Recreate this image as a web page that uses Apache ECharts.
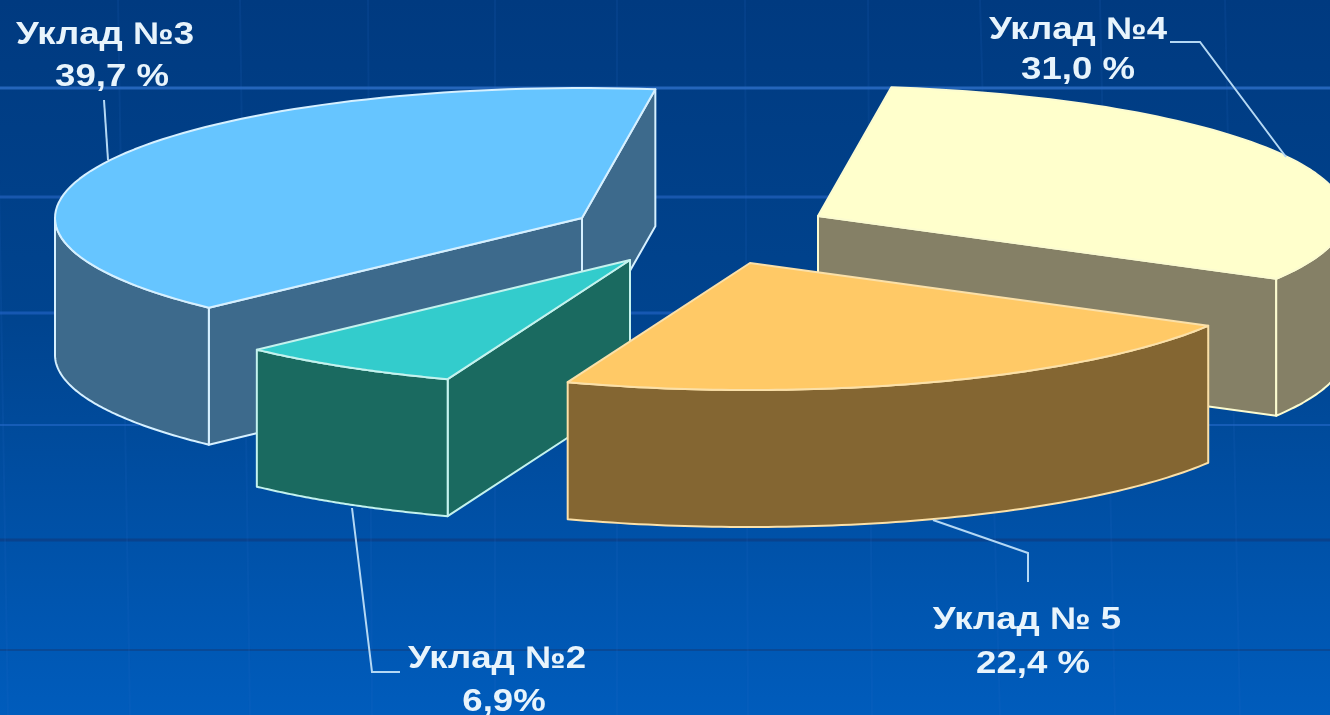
<!DOCTYPE html>
<html><head><meta charset="utf-8">
<script src="https://cdn.jsdelivr.net/npm/echarts@6/dist/echarts.min.js"></script>
<style>html,body{margin:0;padding:0;background:#0048a0}#c{width:1330px;height:715px;overflow:hidden}</style>
</head><body><div id="c"></div>
<script>
// Data, clockwise from the rear edge of the pie
const categories = ['Уклад №4', 'Уклад № 5', 'Уклад №2', 'Уклад №3'];
const shares = [31.0, 22.4, 6.9, 39.7];
const shareLabels = ['31,0 %', '22,4 %', '6,9%', '39,7 %'];

// Styles
const topColors  = ['#ffffcc', '#ffc966', '#33cccc', '#66c5ff'];
const sideColors = ['#858066', '#846632', '#1a6a60', '#3d6a8c'];
const edgeColors = ['#fbfbd0', '#fbe0a8', '#c4f2ee', '#d6f0ff'];
const drawOrder  = [1, 3, 2, 0];

// 3D projection and layout
const RX = 527, RY_REAR = 130, RY_FRONT = 127, DEPTH = 137, START_ANGLE = -82;
const centers = [[818, 216], [750, 263], [630, 260], [582, 218]];
const leaders = [
  [[1170, 42], [1200, 42], [1286, 157]],
  [[933, 520], [1028, 553], [1028, 582]],
  [[352, 508], [372, 672], [400, 672]],
  [[104, 100], [108, 160]]
];
const titlePos = [[1078, 30], [1027, 620], [497, 659], [105, 35]];
const valuePos = [[1078, 70], [1033, 664], [504, 702], [112, 77]];
const gridRows = [[88, '#2a6cc4', 3], [197, '#1c5cb4', 3], [313, '#1a5cb8', 3], [425, '#1a60bc', 2], [540, '#0a4088', 3], [650, '#0a4690', 2]];
const gridCols = [[-4, 8], [118, 130], [240, 250], [368, 372], [495, 495], [617, 617], [745, 748], [868, 872], [980, 1000], [1100, 1115], [1225, 1240]];

const total = shares.reduce((a, b) => a + b, 0);
let running = 0;
const seriesData = shares.map(v => { const d = [v, running]; running += v; return d; });

function renderSlice(params, api) {
  const i = params.dataIndex;
  const a0 = START_ANGLE + api.value(1) / total * 360;
  const a1 = a0 + api.value(0) / total * 360;
  const [cx, cy] = centers[i];
  const pt = (deg, dy) => {
    const r = deg * Math.PI / 180, s = Math.sin(r);
    return [cx + RX * Math.cos(r), cy + (s > 0 ? RY_FRONT : RY_REAR) * s + (dy || 0)];
  };
  const arc = (from, to, dy) => {
    const out = [], n = 80;
    for (let k = 0; k <= n; k++) out.push(pt(from + (to - from) * k / n, dy));
    return out;
  };
  const z = drawOrder[i] * 10;
  const face = (points, fill, zz) => ({
    type: 'polygon', z2: z + zz, shape: { points },
    style: { fill, stroke: edgeColors[i], lineWidth: 2, lineJoin: 'round' }
  });
  const children = [];
  // radial walls: drawn only when their outward normal points at the viewer
  const normalStart = a0 - 90, normalEnd = a1 + 90;
  if (Math.sin(normalStart * Math.PI / 180) > 0) {
    const p = pt(a0);
    children.push(face([[cx, cy], p, [p[0], p[1] + DEPTH], [cx, cy + DEPTH]], sideColors[i], 1));
  }
  if (Math.sin(normalEnd * Math.PI / 180) > 0) {
    const p = pt(a1);
    children.push(face([[cx, cy], p, [p[0], p[1] + DEPTH], [cx, cy + DEPTH]], sideColors[i], 1));
  }
  // outer curved wall: only the part in front (0..180 degrees)
  const from = Math.max(a0, 0), to = Math.min(a1, 180);
  if (to > from) {
    children.push(face(arc(from, to, 0).concat(arc(to, from, DEPTH)), sideColors[i], 2));
  }
  // top
  children.push(face([[cx, cy]].concat(arc(a0, a1, 0)), topColors[i], 3));
  // leader
  children.push({
    type: 'polyline', z2: 100, shape: { points: leaders[i] },
    style: { fill: null, stroke: '#b4d8f4', lineWidth: 2 }
  });
  const text = (pos, str) => ({
    type: 'text', z2: 101, x: pos[0], y: pos[1], scaleX: 1.18,
    style: {
      text: str, fill: '#e8f4fc', align: 'center', verticalAlign: 'middle',
      font: 'bold 31px "Liberation Sans", Arial, sans-serif',
      shadowColor: 'rgba(0,20,70,0.5)', shadowBlur: 2, shadowOffsetX: 1, shadowOffsetY: 1
    }
  });
  children.push(text(titlePos[i], categories[i]));
  children.push(text(valuePos[i], shareLabels[i]));
  return { type: 'group', children };
}

const bgLines = [];
gridRows.forEach(([y, color, w]) => bgLines.push({
  type: 'line', silent: true, z: 1, shape: { x1: 0, y1: y, x2: 1330, y2: y },
  style: { stroke: color, lineWidth: w, opacity: 0.85 }
}));
gridCols.forEach(([x0, x1]) => bgLines.push({
  type: 'line', silent: true, z: 1, shape: { x1: x0, y1: 0, x2: x1, y2: 715 },
  style: { stroke: '#2a70cc', lineWidth: 2, opacity: 0.13 }
}));

const chart = echarts.init(document.getElementById('c'), null, { renderer: 'canvas' });
chart.setOption({
  animation: false,
  backgroundColor: {
    type: 'linear', x: 0, y: 0, x2: 0, y2: 1,
    colorStops: [{ offset: 0, color: '#003a80' }, { offset: 0.45, color: '#00448f' }, { offset: 1, color: '#005cbc' }]
  },
  graphic: { elements: bgLines },
  series: [{
    type: 'custom', coordinateSystem: 'none', silent: true, z: 5,
    renderItem: renderSlice, data: seriesData
  }]
});
</script></body></html>
